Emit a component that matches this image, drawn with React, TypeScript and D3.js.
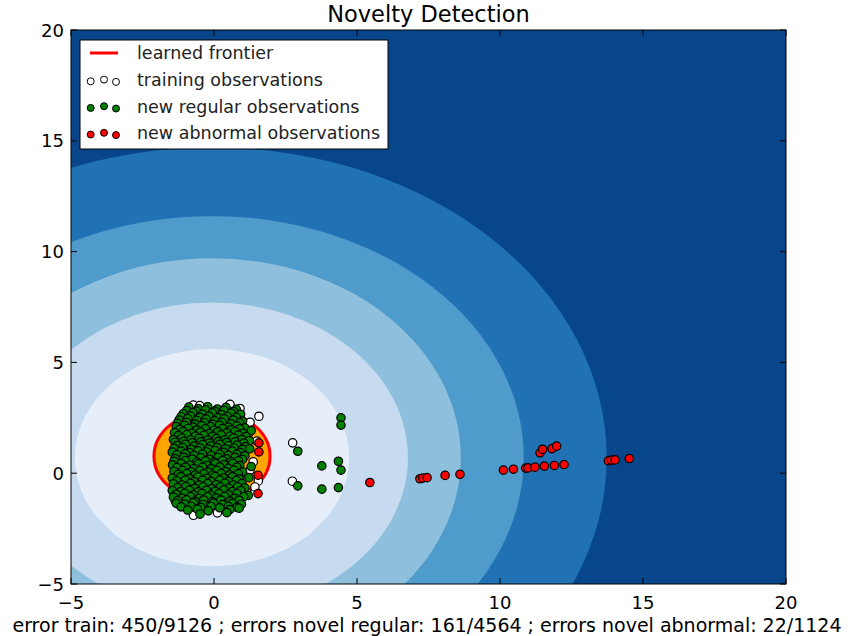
import React from 'react';
import * as d3 from 'd3';

// axis ticks
const xTicks = [-5, 0, 5, 10, 15, 20];
const yTicks = [-5, 0, 5, 10, 15, 20];

const contourCenter = [-0.07, 0.7];
const contourRx = [13.8, 10.9, 8.7, 6.85, 4.8];
const contourRy = [14.0, 10.9, 9.0, 7.0, 4.9];
const bandColors = ['#08468b', '#2171b5', '#4f9bcb', '#8ec0de', '#c6dbef', '#e5eef9'];

// learned frontier (level 0)
const frontierCenter = [-0.07, 0.77];
const frontierR = [2.03, 2.03];

const trainPoints: [number, number][] = [
  [-0.72, 3.07], [0.56, 3.11], [0.91, 2.92], [1.57, 2.57], [-0.2, 2.62], [-0.5, 3.05],
  [1.26, 2.3], [1.02, 1.94], [1.2, 1.79], [-1.19, 1.79], [1.5, 1.45], [1.12, 1.04],
  [-1.36, 0.89], [1.37, 0.51], [0.8, 0.35], [1.26, 0.14], [0.95, -0.3], [1.55, -0.35],
  [1.43, -0.62], [1.14, -0.84], [-1.36, -1.22], [-0.72, -1.9], [0.12, -1.79],
  [2.75, 1.37], [2.74, -0.36],
];

const regularPoints: [number, number][] = [
  [-0.88, 2.98], [-0.55, 2.92], [-0.22, 3.0], [0.12, 2.9], [0.42, 2.97], [0.78, 2.88],
  [-0.95, 2.83], [-0.62, 2.8], [-0.3, 2.86], [0.02, 2.8], [0.35, 2.84], [0.68, 2.79],
  [-1.08, 2.68], [-0.74, 2.74], [-0.4, 2.66], [-0.06, 2.72], [0.27, 2.64], [0.6, 2.71], [0.93, 2.66],
  [-1.15, 2.55], [-0.82, 2.58], [-0.5, 2.52], [-0.18, 2.57], [0.14, 2.5], [0.46, 2.56], [0.78, 2.52],
  [-1.22, 2.4], [-0.92, 2.46], [-0.6, 2.38], [-0.28, 2.44], [0.03, 2.36], [0.36, 2.45], [0.68, 2.4], [1.0, 2.35],
  [-1.28, 2.25], [-0.96, 2.3], [-0.66, 2.22], [-0.34, 2.28], [-0.04, 2.21], [0.28, 2.29], [0.6, 2.23], [0.9, 2.27],
  [-1.32, 2.1], [-1.03, 2.16], [-0.73, 2.08], [-0.43, 2.15], [-0.12, 2.1], [0.19, 2.17], [0.5, 2.08], [0.8, 2.14], [1.08, 2.05],
  [-1.2, 1.98], [-0.9, 2.02], [-0.6, 1.95], [-0.3, 2.0], [0.0, 1.94], [0.3, 2.01], [0.6, 1.96], [0.9, 2.0], [1.3, 1.92],
  [-1.38, 1.83], [-1.08, 1.88], [-0.78, 1.8], [-0.47, 1.86], [-0.17, 1.79], [0.14, 1.87], [0.44, 1.82], [0.74, 1.88], [1.02, 1.8],
  [-1.25, 1.7], [-0.95, 1.74], [-0.65, 1.67], [-0.35, 1.72], [-0.05, 1.66], [0.25, 1.73], [0.55, 1.67], [0.85, 1.72], [1.12, 1.65],
  [-1.42, 1.52], [-1.12, 1.58], [-0.82, 1.5], [-0.52, 1.57], [-0.22, 1.49], [0.08, 1.56], [0.38, 1.5], [0.68, 1.58], [0.97, 1.52], [1.24, 1.47],
  [-1.36, 1.4], [-1.06, 1.44], [-0.76, 1.37], [-0.46, 1.42], [-0.16, 1.36], [0.14, 1.43], [0.44, 1.38], [0.74, 1.42], [1.04, 1.36],
  [-1.3, 1.25], [-1.0, 1.3], [-0.7, 1.22], [-0.4, 1.29], [-0.1, 1.23], [0.2, 1.3], [0.5, 1.24], [0.8, 1.27], [1.1, 1.2],
  [-1.4, 1.12], [-1.1, 1.15], [-0.8, 1.08], [-0.5, 1.14], [-0.2, 1.09], [0.1, 1.16], [0.4, 1.1], [0.7, 1.14], [1.0, 1.08], [1.25, 1.1],
  [-1.46, 0.95], [-1.16, 1.0], [-0.86, 0.93], [-0.56, 1.01], [-0.26, 0.96], [0.04, 1.02], [0.34, 0.94], [0.64, 1.0], [0.92, 0.93],
  [-1.3, 0.83], [-1.0, 0.87], [-0.7, 0.8], [-0.4, 0.86], [-0.1, 0.79], [0.2, 0.86], [0.5, 0.81], [0.8, 0.85], [1.08, 0.78],
  [-1.36, 0.66], [-1.06, 0.72], [-0.76, 0.64], [-0.46, 0.7], [-0.16, 0.63], [0.14, 0.71], [0.44, 0.65], [0.74, 0.72], [1.0, 0.62],
  [-1.4, 0.54], [-1.0, 0.57], [-0.6, 0.51], [-0.3, 0.56], [0.0, 0.5], [0.3, 0.57], [0.6, 0.52], [0.85, 0.56],
  [-1.45, 0.37], [-1.15, 0.43], [-0.85, 0.36], [-0.55, 0.42], [-0.25, 0.35], [0.05, 0.43], [0.35, 0.38], [0.65, 0.44], [0.9, 0.34], [1.3, 0.3],
  [-1.3, 0.25], [-1.0, 0.28], [-0.7, 0.21], [-0.4, 0.27], [-0.1, 0.2], [0.2, 0.28], [0.5, 0.22], [0.8, 0.27],
  [-1.4, 0.08], [-1.1, 0.13], [-0.8, 0.06], [-0.5, 0.12], [-0.2, 0.05], [0.1, 0.13], [0.4, 0.07], [0.7, 0.14], [1.0, 0.06],
  [-1.25, -0.05], [-0.95, -0.02], [-0.65, -0.08], [-0.35, -0.03], [-0.05, -0.09], [0.25, -0.02], [0.55, -0.07], [0.85, -0.03],
  [-1.46, -0.22], [-1.16, -0.16], [-0.86, -0.24], [-0.56, -0.17], [-0.26, -0.23], [0.04, -0.15], [0.34, -0.22], [0.64, -0.16], [0.88, -0.25], [1.22, -0.2],
  [-1.3, -0.35], [-1.0, -0.31], [-0.7, -0.38], [-0.4, -0.32], [-0.1, -0.38], [0.2, -0.31], [0.5, -0.37], [0.78, -0.32],
  [-1.42, -0.48], [-1.12, -0.53], [-0.82, -0.46], [-0.52, -0.54], [-0.22, -0.47], [0.08, -0.52], [0.38, -0.45], [0.68, -0.53], [0.98, -0.47],
  [-1.28, -0.65], [-0.98, -0.61], [-0.68, -0.68], [-0.38, -0.62], [-0.08, -0.69], [0.22, -0.62], [0.52, -0.67], [0.82, -0.62], [1.08, -0.66],
  [-1.46, -0.78], [-1.16, -0.83], [-0.86, -0.76], [-0.56, -0.84], [-0.26, -0.77], [0.04, -0.82], [0.34, -0.75], [0.64, -0.83], [0.94, -0.78],
  [-1.32, -0.95], [-1.02, -0.91], [-0.72, -0.98], [-0.42, -0.92], [-0.12, -0.99], [0.18, -0.92], [0.5, -0.97], [0.8, -0.92], [1.2, -1.0],
  [-1.42, -1.08], [-1.12, -1.13], [-0.82, -1.06], [-0.52, -1.14], [-0.22, -1.07], [0.08, -1.12], [0.38, -1.05], [0.72, -1.13], [1.04, -1.06],
  [-1.28, -1.24], [-0.96, -1.2], [-0.66, -1.27], [-0.36, -1.21], [-0.06, -1.28], [0.24, -1.21], [0.56, -1.26], [0.88, -1.22],
  [-1.32, -1.36], [-1.02, -1.4], [-0.72, -1.34], [-0.38, -1.41], [-0.02, -1.35], [0.3, -1.42], [0.64, -1.36], [0.96, -1.4],
  [-1.15, -1.52], [-0.8, -1.5], [-0.45, -1.55], [-0.1, -1.5], [0.2, -1.56], [0.5, -1.5], [0.8, -1.54],
  [-0.92, -1.66], [-0.58, -1.62], [-0.2, -1.7], [0.55, -1.64], [0.88, -1.58], [-0.49, -1.85], [0.45, -1.78],
  // scattered regular points right of the cluster
  [2.93, 0.99], [4.44, 2.5], [4.44, 2.17], [3.77, 0.33], [4.35, 0.54], [4.44, 0.14],
  [2.93, -0.57], [3.77, -0.72], [4.35, -0.65],
];

const abnormalPoints: [number, number][] = [
  [1.57, 1.37], [1.57, 0.96], [1.54, -0.09], [1.54, -0.92],
  [5.45, -0.42], [7.2, -0.25], [7.3, -0.22], [7.45, -0.2], [8.08, -0.1], [8.6, -0.05],
  [10.12, 0.14], [10.47, 0.18], [10.9, 0.23], [10.98, 0.24], [11.22, 0.27], [11.55, 0.32],
  [11.9, 0.35], [12.24, 0.39], [11.4, 0.92], [11.49, 1.08], [11.82, 1.11], [11.98, 1.22],
  [13.79, 0.56], [13.9, 0.59], [14.02, 0.6], [14.52, 0.66],
];

const legendLabels = ['learned frontier', 'training observations', 'new regular observations', 'new abnormal observations'];
const legendFills = ['white', 'green', 'red'];
const title = 'Novelty Detection';
const xLabel = 'error train: 450/9126 ; errors novel regular: 161/4564 ; errors novel abnormal: 22/1124';

const W = 852;
const H = 636;
const plot = { left: 71, right: 786, top: 30, bottom: 584 };
const font = "'DejaVu Sans', sans-serif";

export default function App() {
  const x = d3.scaleLinear().domain([-5, 20]).range([plot.left, plot.right]);
  const y = d3.scaleLinear().domain([-5, 20]).range([plot.bottom, plot.top]);
  const fmt = d3.format('d');
  const tickLen = 6;

  const dot = (p: [number, number], fill: string, i: number) => (
    <circle key={i} cx={x(p[0])} cy={y(p[1])} r={4.2} fill={fill} stroke="black" strokeWidth={1.2} />
  );

  // legend scatter markers sit at small vertical offsets like matplotlib's
  const legendDx = [90.7, 104, 116];
  const legendDy = [1.7, 0, 2.3];

  return (
    <div style={{ position: 'absolute', left: 0, top: 0 }}>
      <svg width={W} height={H} style={{ display: 'block', background: 'white' }}>
        <defs>
          <clipPath id="plotClip">
            <rect x={plot.left} y={plot.top} width={plot.right - plot.left} height={plot.bottom - plot.top} />
          </clipPath>
        </defs>

        <g clipPath="url(#plotClip)">
          <rect x={plot.left} y={plot.top} width={plot.right - plot.left} height={plot.bottom - plot.top} fill={bandColors[0]} />
          {contourRx.map((rx, i) => (
            <ellipse
              key={i}
              cx={x(contourCenter[0])}
              cy={y(contourCenter[1])}
              rx={x(contourCenter[0] + rx) - x(contourCenter[0])}
              ry={y(contourCenter[1]) - y(contourCenter[1] + contourRy[i])}
              fill={bandColors[i + 1]}
            />
          ))}
          <ellipse
            cx={x(frontierCenter[0])}
            cy={y(frontierCenter[1])}
            rx={x(frontierCenter[0] + frontierR[0]) - x(frontierCenter[0])}
            ry={y(frontierCenter[1]) - y(frontierCenter[1] + frontierR[1])}
            fill="#ffa500"
            stroke="red"
            strokeWidth={3}
          />
          {trainPoints.map((p, i) => dot(p, 'white', i))}
          {regularPoints.map((p, i) => dot(p, 'green', i))}
          {abnormalPoints.map((p, i) => dot(p, 'red', i))}
        </g>

        {/* frame */}
        <rect x={plot.left} y={plot.top} width={plot.right - plot.left} height={plot.bottom - plot.top} fill="none" stroke="black" strokeWidth={1} />

        {/* ticks, inward on all four sides */}
        {xTicks.map(t => (
          <g key={'x' + t}>
            <line x1={x(t)} x2={x(t)} y1={plot.bottom} y2={plot.bottom - tickLen} stroke="black" />
            <line x1={x(t)} x2={x(t)} y1={plot.top} y2={plot.top + tickLen} stroke="black" />
            <text x={x(t)} y={609} textAnchor="middle" fontFamily={font} fontSize={18}>{fmt(t)}</text>
          </g>
        ))}
        {yTicks.map(t => (
          <g key={'y' + t}>
            <line x1={plot.left} x2={plot.left + tickLen} y1={y(t)} y2={y(t)} stroke="black" />
            <line x1={plot.right} x2={plot.right - tickLen} y1={y(t)} y2={y(t)} stroke="black" />
            <text x={64} y={y(t) + 6.5} textAnchor="end" fontFamily={font} fontSize={18}>{fmt(t)}</text>
          </g>
        ))}

        <text x={(plot.left + plot.right) / 2} y={22} textAnchor="middle" fontFamily={font} fontSize={22.5}>{title}</text>
        <text x={427} y={632} textAnchor="middle" fontFamily={font} fontSize={19}>{xLabel}</text>

        {/* legend */}
        <rect x={80} y={40} width={308} height={109} fill="white" stroke="black" strokeWidth={1} />
        {legendLabels.map((label, i) => {
          const cy = 53 + i * 26.6;
          return (
            <g key={label}>
              {i === 0 ? (
                <line x1={90} x2={118} y1={cy} y2={cy} stroke="red" strokeWidth={3} />
              ) : (
                legendDx.map((dx, j) => (
                  <circle key={j} cx={dx} cy={cy + legendDy[j]} r={3.5} fill={legendFills[i - 1]} stroke="black" strokeWidth={1} />
                ))
              )}
              <text x={137} y={cy + 6.3} fontFamily={font} fontSize={17.5} fill="#222">{label}</text>
            </g>
          );
        })}
      </svg>
    </div>
  );
}
